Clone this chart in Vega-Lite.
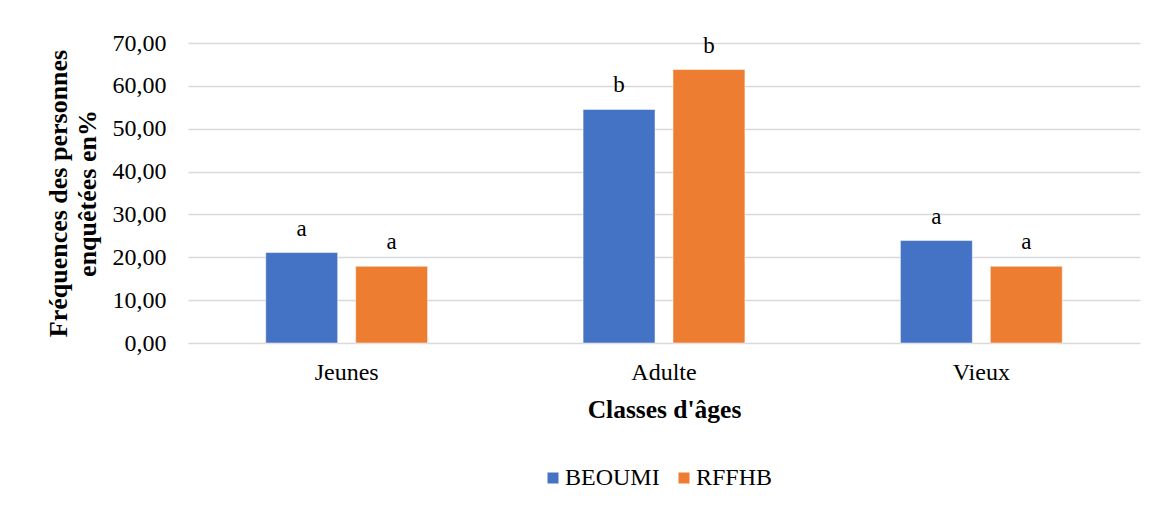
{
  "$schema": "https://vega.github.io/schema/vega-lite/v6.json",
  "autosize": {"type": "none"},
  "width": 952,
  "height": 300,
  "padding": {"left": 188, "top": 43, "right": 20, "bottom": 163},
  "background": "white",
  "config": {
    "view": {"stroke": null},
    "font": "Liberation Serif",
    "axis": {"labelFont": "Liberation Serif", "titleFont": "Liberation Serif"},
    "legend": {"labelFont": "Liberation Serif"}
  },
  "data": {
    "values": [
      {"classe": "Jeunes", "site": "BEOUMI", "freq": 21.1, "lettre": "a"},
      {"classe": "Jeunes", "site": "RFFHB", "freq": 17.9, "lettre": "a"},
      {"classe": "Adulte", "site": "BEOUMI", "freq": 54.5, "lettre": "b"},
      {"classe": "Adulte", "site": "RFFHB", "freq": 63.8, "lettre": "b"},
      {"classe": "Vieux", "site": "BEOUMI", "freq": 23.9, "lettre": "a"},
      {"classe": "Vieux", "site": "RFFHB", "freq": 17.9, "lettre": "a"}
    ]
  },
  "encoding": {
    "x": {
      "field": "classe", "type": "nominal", "sort": ["Jeunes", "Adulte", "Vieux"],
      "scale": {"paddingInner": 0.49, "paddingOuter": 0.245},
      "axis": {
        "title": "Classes d'âges", "titleFontSize": 25.5, "titleFontWeight": "bold",
        "titleColor": "#000000", "titlePadding": 13,
        "labelAngle": 0, "labelFontSize": 24, "labelColor": "#000000",
        "labelPadding": 17, "domain": false, "ticks": false
      }
    },
    "xOffset": {"field": "site", "type": "nominal", "scale": {"paddingInner": 0.2, "paddingOuter": 0}},
    "y": {
      "field": "freq", "type": "quantitative",
      "scale": {"domain": [0, 70], "nice": false},
      "axis": {
        "values": [0, 10, 20, 30, 40, 50, 60, 70],
        "labelExpr": "replace(format(datum.value, '.2f'), '.', ',')",
        "labelFontSize": 24, "labelColor": "#000000", "labelPadding": 22,
        "domain": false, "ticks": false,
        "grid": true, "gridColor": "#D9D9D9", "gridWidth": 1.5,
        "title": ["Fréquences des personnes", "enquêtées en%"],
        "titleFontSize": 26, "titleFontWeight": "bold", "titleColor": "#000000",
        "titleLineHeight": 29, "titlePadding": 12
      }
    }
  },
  "layer": [
    {
      "mark": {"type": "bar", "stroke": "white", "strokeWidth": 0.5},
      "encoding": {
        "color": {
          "field": "site", "type": "nominal",
          "scale": {"domain": ["BEOUMI", "RFFHB"], "range": ["#4472C4", "#ED7D31"]},
          "legend": {
            "title": null, "orient": "none", "direction": "horizontal",
            "legendX": 353, "legendY": 423,
            "symbolType": "square", "symbolSize": 121, "symbolStrokeWidth": 0,
            "labelFontSize": 24, "labelColor": "#000000",
            "labelOffset": 0, "columnPadding": 12
          }
        }
      }
    },
    {
      "mark": {"type": "text", "dy": -17, "baseline": "alphabetic", "fontSize": 23, "color": "#000000"},
      "encoding": {"text": {"field": "lettre"}}
    }
  ]
}
